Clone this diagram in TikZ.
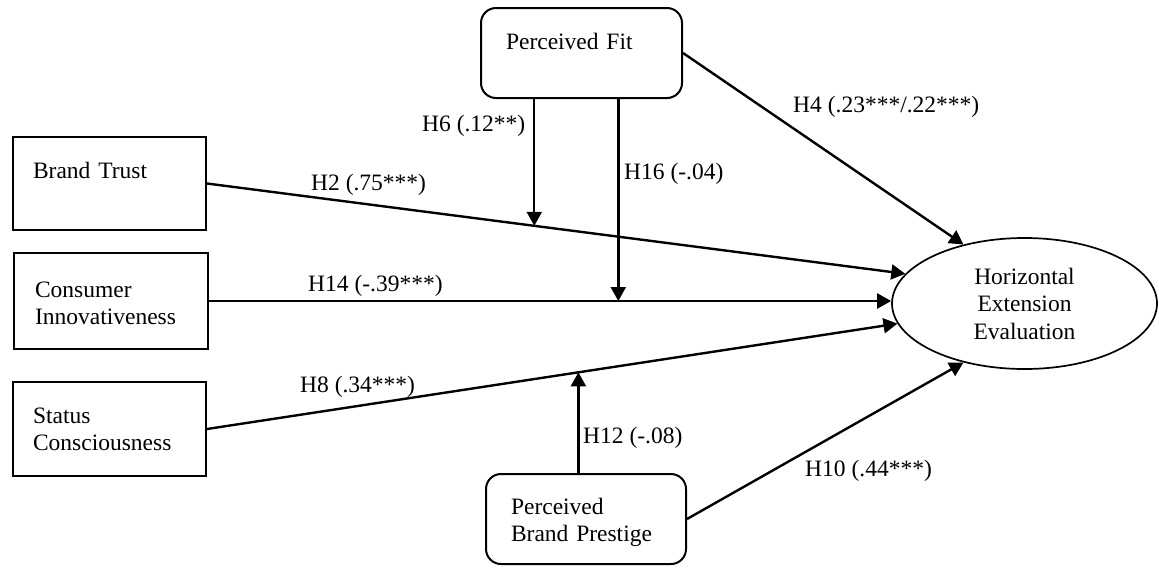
\documentclass[tikz,border=0pt]{standalone}
\usepackage{fontspec}
\setmainfont{Liberation Serif}
\usetikzlibrary{arrows.meta,shapes.geometric,calc}

\begin{document}
\begin{tikzpicture}[x=1pt,y=-1pt,
  every node/.style={font=\fontsize{23.5}{27.5}\selectfont},
  construct/.style={draw,line width=2pt,anchor=north west,align=left,inner ysep=0pt},
  roundbox/.style={construct,rounded corners=15pt},
  outcome/.style={draw,ellipse,line width=1.7pt,minimum width=265pt,minimum height=131pt,inner sep=0pt,align=center},
  hyp/.style={anchor=base west,inner sep=0pt},
  path arrow/.style={line width=2.4pt,-{Triangle[length=14pt,width=15pt]}}
]
\useasboundingbox (0,0) rectangle (1159,582);

% constructs
\node[roundbox,inner xsep=25pt,text width=151pt,text height=41pt,text depth=49pt] (pf) at (480,7) {Perceived Fit};
\node[construct,inner xsep=20pt,text width=153pt,text height=41pt,text depth=52pt] (bt) at (12,136) {Brand Trust};
\node[construct,inner xsep=21pt,text width=152pt,text height=44pt,text depth=52pt] (ci) at (13,252) {Consumer\\Innovativeness};
\node[construct,inner xsep=20pt,text width=153pt,text height=41pt,text depth=53pt] (sc) at (12,381) {Status\\Consciousness};
\node[roundbox,inner xsep=25pt,text width=150pt,text height=40pt,text depth=50pt] (pbp) at (485,473) {Perceived\\Brand Prestige};
\node[outcome] (hee) at (1024.5,303.5) {Horizontal\\Extension\\Evaluation};

% direct paths
\draw[path arrow] (bt.east) -- coordinate[pos=0.4687] (m6) (hee.166);
\draw[path arrow] (ci.east) -- coordinate[pos=0.6] (m16) (ci.east -| hee.west);
\draw[path arrow] (sc.east) -- coordinate[pos=0.5379] (m12) (hee.189);
\draw[path arrow] (pf.east) -- (hee.136);
\draw[path arrow] (pbp.east) -- (hee.224.5);

% moderating paths
\draw[path arrow] (m6 |- pf.south) -- (m6);
\draw[path arrow] (m16 |- pf.south) -- (m16);
\draw[path arrow] (m12 |- pbp.north) -- (m12);

% path coefficients
\node[hyp] (h4) at (793,112) {H4 (.23***/.22***)};
\node[hyp] (h6) at (422,131) {H6 (.12**)};
\node[hyp] (h16) at (624,179) {H16 (-.04)};
\node[hyp] (h2) at (311,190) {H2 (.75***)};
\node[hyp] (h14) at (308,291) {H14 (-.39***)};
\node[hyp] (h8) at (300,392) {H8 (.34***)};
\node[hyp] (h12) at (583,443) {H12 (-.08)};
\node[hyp] (h10) at (805,476) {H10 (.44***)};
\end{tikzpicture}
\end{document}
